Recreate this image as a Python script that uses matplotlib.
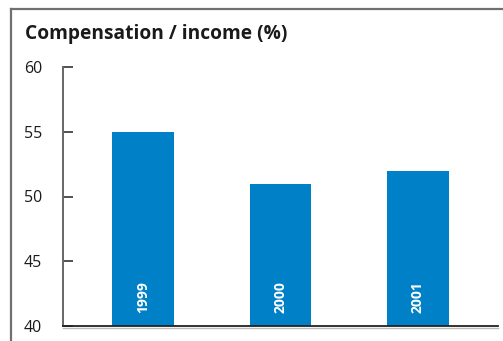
import matplotlib.pyplot as plt
from matplotlib.lines import Line2D

# --- data ---
years = ['1999', '2000', '2001']
ratio = [55, 51, 52]
y_ticks = [40, 45, 50, 55, 60]

bar_color = '#0080c6'
frame_color = '#707070'
plt.rcParams['font.family'] = ['Open Sans', 'DejaVu Sans']

W, H = 503, 341
fig = plt.figure(figsize=(W / 100, H / 100), dpi=100)

# panel frame: left and top edges only, the rest runs off the figure
fig.add_artist(Line2D([11 / W, 11 / W], [0, (H - 9) / H], color=frame_color, lw=1.6))
fig.add_artist(Line2D([11 / W, 1], [(H - 9) / H, (H - 9) / H], color=frame_color, lw=1.6))

fig.text(25 / W, (H - 39.5) / H, 'Compensation / income (%)', fontsize=13.8,
         fontweight='bold', color='#1a1a1a', va='baseline', ha='left')

ax = fig.add_axes([63 / W, 15 / H, (498 - 63) / W, (326 - 67) / H])
x = range(len(years))
ax.bar(x, ratio, width=0.45, color=bar_color, zorder=2)

for xi, yr in zip(x, years):
    ax.text(xi, 41, yr, rotation=90, ha='center', va='bottom', color='white',
            fontsize=10, fontweight='bold')

ax.set_ylim(40, 60)
ax.set_xlim(-0.582, 2.582)
ax.set_yticks(y_ticks)
ax.set_xticks([])
ax.tick_params(axis='y', direction='in', length=7, width=1.2, color='#333333',
               labelsize=11.5, labelcolor='#1a1a1a', pad=15)
for lbl in ax.get_yticklabels():
    lbl.set_horizontalalignment('right')

for s in ['top', 'right']:
    ax.spines[s].set_visible(False)
ax.spines['left'].set_color('#666666')
ax.spines['left'].set_linewidth(1.4)
ax.spines['bottom'].set_color('#222222')
ax.spines['bottom'].set_linewidth(1.3)
ax.spines['bottom'].set_zorder(3)
# light shadow line under the baseline
fig.add_artist(Line2D([63 / W, 498 / W], [(H - 327.8) / H] * 2, color='#bbbbbb', lw=1.0))

fig.savefig('out.png', dpi=100)
